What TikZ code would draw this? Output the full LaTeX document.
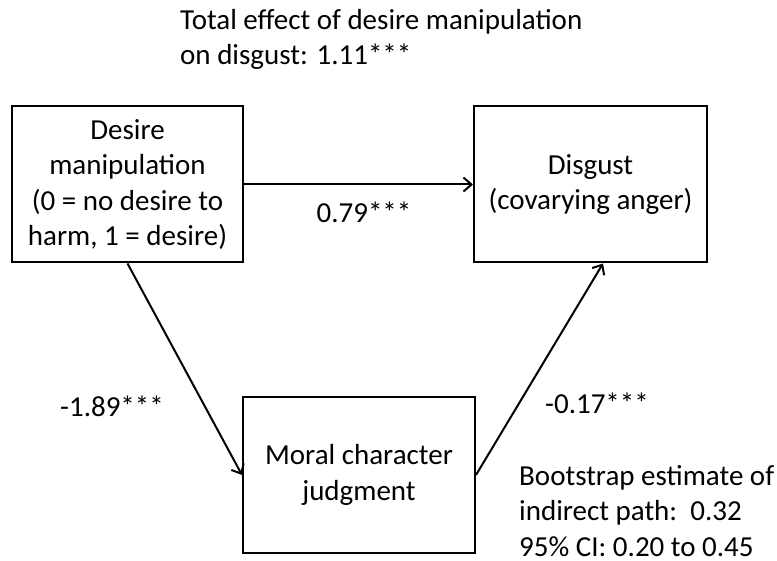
\documentclass[tikz,border=0pt]{standalone}
\usepackage{fontspec}
\setmainfont{Carlito}
\usetikzlibrary{arrows.meta}
\begin{document}
\begin{tikzpicture}[x=1pt,y=-1pt,
  txt/.style={font=\fontsize{29}{35.5}\selectfont},
  box/.style={txt, draw, line width=2pt, minimum width=231pt, minimum height=156pt, align=center, inner sep=0pt},
  lbl/.style={txt, inner sep=0pt},
  conn/.style={line width=2pt, -{Straight Barb[length=8pt,width=14pt,line width=2pt]}}]
\useasboundingbox[fill=white] (0,0) rectangle (777,561);
\node[box] (A) at (127.5,184.5) {Desire\\manipulation\\(0 = no desire to\\harm, 1 = desire)};
\node[box, minimum width=233pt] (D) at (590.5,184.5) {Disgust\\(covarying anger)};
\node[box, minimum width=232pt] (M) at (359,475) {Moral character\\judgment};
\node[lbl] (l1) at (364,212) {0.79***};
\node[lbl] (l2) at (112,406) {-1.89***};
\node[lbl] (l3) at (597,403) {-0.17***};
\node[lbl, anchor=base west, align=left] (T) at (180,65) {Total effect of desire manipulation\\on disgust: 1.11***};
\node[lbl, anchor=base west, align=left] (B) at (519,556) {Bootstrap estimate of\\indirect path:\ \ 0.32\\95\% CI: 0.20 to 0.45};
\draw[conn] (A) -- (D);
\draw[conn] (A.south) -- (M.west);
\draw[conn] (M.east) -- ([xshift=12.5pt]D.south);
\end{tikzpicture}
\end{document}
